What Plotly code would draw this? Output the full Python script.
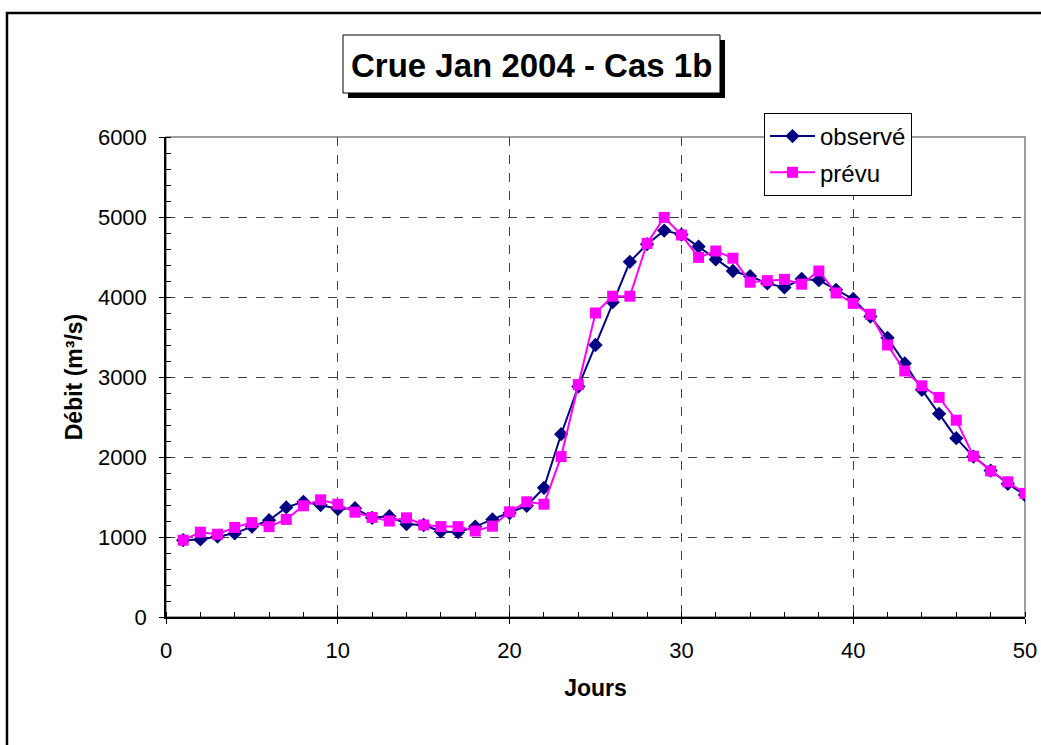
import plotly.graph_objects as go

# Daily discharge (m3/s) for the January 2004 flood, case 1b
jours = list(range(1, 51))

observe = [960, 970, 1005, 1045, 1130, 1210, 1370, 1440, 1400, 1350,
           1360, 1240, 1260, 1160, 1150, 1070, 1060, 1130, 1220, 1300,
           1390, 1615, 2285, 2880, 3400, 3935, 4440, 4660, 4830, 4780,
           4630, 4470, 4325, 4260, 4170, 4120, 4225, 4210, 4090, 3975,
           3755, 3490, 3170, 2840, 2540, 2235, 2005, 1830, 1665, 1525]

prevu = [960, 1060, 1035, 1120, 1180, 1130, 1220, 1390, 1465, 1410,
         1310, 1245, 1200, 1240, 1150, 1130, 1130, 1075, 1135, 1315,
         1440, 1410, 2005, 2905, 3800, 4010, 4010, 4670, 4995, 4775,
         4495, 4575, 4485, 4185, 4205, 4220, 4160, 4325, 4050, 3920,
         3785, 3400, 3075, 2890, 2745, 2460, 2010, 1825, 1690, 1545]

titre = "Crue Jan 2004 - Cas 1b"
label_x = "Jours"
label_y = "Débit (m³/s)"

FONT = "Liberation Sans, Arial, Helvetica, sans-serif"

# pixel geometry of the page
W, H = 1041, 745
L, R, T, B = 166, 1025, 137, 617
pw, ph = R - L, B - T


def px(x):
    return (x - L) / pw


def py(y):
    return (B - y) / ph


fig = go.Figure()
fig.add_trace(go.Scatter(
    x=jours, y=observe, name="observé", mode="lines+markers",
    line=dict(color="#000080", width=2),
    marker=dict(symbol="diamond", size=11, color="#000080"),
    legendgroup="a",
))
fig.add_trace(go.Scatter(
    x=jours, y=prevu, name="prévu", mode="lines+markers",
    line=dict(color="#FF00FF", width=2),
    marker=dict(symbol="square", size=11, color="#FF00FF"),
    legendgroup="b",
))

shapes = [
    # gray plot-area border (top/right)
    dict(type="rect", xref="paper", yref="paper", x0=0, x1=1, y0=0, y1=1,
         line=dict(color="#808080", width=1.5), layer="below"),
    # outer chart frame
    dict(type="rect", xref="paper", yref="paper",
         x0=px(7), x1=px(W + 10), y0=py(H + 10), y1=py(13),
         line=dict(color="black", width=2.5)),
    # title box shadow
    dict(type="rect", xref="paper", yref="paper",
         x0=px(348), x1=px(725), y0=py(98), y1=py(40),
         fillcolor="black", line=dict(width=0)),
    # title box
    dict(type="rect", xref="paper", yref="paper",
         x0=px(343), x1=px(720), y0=py(93), y1=py(35),
         fillcolor="white", line=dict(color="black", width=1)),
]

common_grid = dict(showgrid=True, gridcolor="#404040", griddash="dash", gridwidth=1)

fig.update_layout(
    width=W, height=H,
    margin=dict(l=L, r=W - R, t=T, b=H - B, autoexpand=False),
    paper_bgcolor="white", plot_bgcolor="white",
    font=dict(family=FONT, color="black", size=22),
    showlegend=True,
    legend=dict(
        x=px(764), y=py(113), xanchor="left", yanchor="top",
        bgcolor="white", bordercolor="black", borderwidth=1,
        font=dict(size=24), tracegroupgap=2, itemwidth=45,
    ),
    shapes=shapes,
    annotations=[
        dict(text="<b>" + titre + "</b>", xref="paper", yref="paper",
             x=px(531), y=py(65), xanchor="center", yanchor="middle",
             showarrow=False, font=dict(size=33, family=FONT)),
    ],
    xaxis=dict(
        range=[0, 50], dtick=10, tick0=0, automargin=False,
        showline=True, linecolor="black", linewidth=1.5,
        ticks="outside", ticklen=5, tickcolor="black", tickwidth=1,
        ticklabelstandoff=8,
        minor=dict(dtick=2, ticks="inside", ticklen=5, tickcolor="black"),
        zeroline=False,
        title=dict(text="<b>" + label_x + "</b>", font=dict(size=23), standoff=18),
        tickfont=dict(size=22),
        **common_grid,
    ),
    yaxis=dict(
        range=[0, 6000], dtick=1000, tick0=0, automargin=False,
        showline=True, linecolor="black", linewidth=1.5,
        ticks="outside", ticklen=5, tickcolor="black", tickwidth=1,
        ticklabelstandoff=8,
        minor=dict(dtick=200, ticks="inside", ticklen=5, tickcolor="black"),
        zeroline=False,
        title=dict(text="<b>" + label_y + "</b>", font=dict(size=23), standoff=9),
        tickfont=dict(size=22),
        **common_grid,
    ),
    # inner halves of the crossing major ticks
    xaxis2=dict(
        range=[0, 50], dtick=10, tick0=0, overlaying="x", automargin=False,
        ticks="inside", ticklen=5, tickcolor="black", tickwidth=1,
        showticklabels=False, showgrid=False, zeroline=False, showline=False,
    ),
    yaxis2=dict(
        range=[0, 6000], dtick=1000, tick0=0, overlaying="y", automargin=False,
        ticks="inside", ticklen=5, tickcolor="black", tickwidth=1,
        showticklabels=False, showgrid=False, zeroline=False, showline=False,
    ),
)

fig.write_html("out.html")
